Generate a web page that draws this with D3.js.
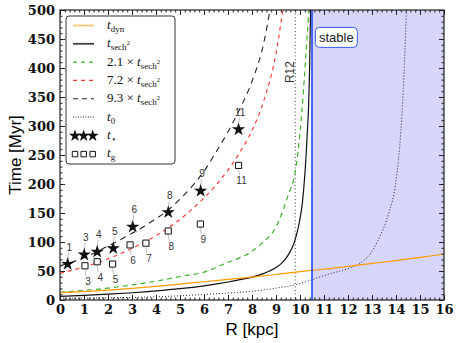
<!DOCTYPE html>
<html>
<head>
<meta charset="utf-8">
<script src="https://cdn.jsdelivr.net/npm/d3@7"></script>
<style>
  body { margin: 0; background: #fff; }
  .tick text { font-family: "DejaVu Serif", serif; font-weight: bold; font-size: 13px; fill: #111; }
</style>
</head>
<body>
<svg width="458" height="343"></svg>
<script>
// ---- data ----
const xTickValues = d3.range(0, 17);
const yTickValues = [0, 50, 100, 150, 200, 250, 300, 350, 400, 450, 500];

const rDyn = [0, 1, 2, 3, 4, 5, 6, 7, 8, 9, 10, 11, 12, 13, 14, 15, 16];
const tDyn = [12.6, 14.5, 17, 20, 23.5, 27.5, 31.5, 35.5, 39.5, 44, 49, 53, 58, 63, 68, 73.5, 79];

const rSech = [0, 1, 2, 3, 4, 5, 6, 7, 7.5, 8, 8.5, 9, 9.25, 9.5, 9.75, 9.9, 10, 10.1, 10.2, 10.3, 10.36, 10.4, 10.44, 10.47];
const tSech = [6.4, 8, 10, 12.5, 15.6, 19.5, 24.5, 31, 35, 39.5, 46, 56, 64, 77, 98, 120, 140, 168, 215, 285, 336, 400, 497, 600];

const rGreen = [0, 1, 2, 3, 4, 5, 6, 7, 7.5, 8, 8.42, 9, 9.25, 9.5, 9.8, 10, 10.15, 10.29, 10.36, 10.4];
const tGreen = [13.3, 16.5, 20.5, 26, 32.5, 40.5, 48, 65, 73, 84, 98, 126, 150, 180, 221, 288, 365, 451, 500, 560];

const rRed = [0, 1, 2, 3, 4, 5, 6, 6.5, 7, 7.5, 8, 8.5, 9, 9.25, 9.5];
const tRed = [46, 57, 71, 89, 111, 139, 176, 198, 224, 255, 292, 345, 425, 490, 560];

const rBlack = [0, 1, 2, 3, 4, 4.5, 5, 5.5, 6, 6.5, 7, 7.5, 8, 8.5, 8.75, 9];
const tBlack = [59, 73, 93, 115, 140, 155, 174, 196, 222, 255, 290, 330, 377, 445, 500, 560];

const rT0 = [0, 2, 4, 5.6, 7, 8, 9, 9.8, 10.5, 11, 11.5, 12, 12.3, 12.6, 13, 13.33, 13.7, 14, 14.2, 14.3, 14.4, 14.45];
const tT0 = [3, 3.8, 5.5, 8.5, 12, 15, 20.5, 26, 35, 42, 48, 54, 59, 66, 84, 110, 150, 205, 290, 360, 460, 520];

const starR = [0.32, 1.01, 1.55, 2.22, 3.03, 4.51, 5.86, 7.44];
const starT = [62, 78, 83, 89, 126, 151, 188, 294];
const starId = ["1", "3", "4", "5", "6", "8", "9", "11"];

const gR = [1.04, 1.55, 2.19, 2.92, 3.58, 4.51, 5.85, 7.44];
const gT = [59, 66, 62, 95, 98, 119, 131, 232];
const gId = ["3", "4", "5", "6", "7", "8", "9", "11"];

const rStable = 10.5;
const rR12 = 9.8;

// ---- layout ----
const margin = { left: 60, top: 10, right: 14, bottom: 43 };
const W = 458, H = 343;
const w = W - margin.left - margin.right;
const h = H - margin.top - margin.bottom;

const svg = d3.select("svg");
const g = svg.append("g").attr("transform", "translate(" + margin.left + "," + margin.top + ")");

const xs = d3.scaleLinear().domain([0, 16]).range([0, w]);
const ys = d3.scaleLinear().domain([0, 500]).range([h, 0]);

svg.append("defs").append("clipPath").attr("id", "clip")
  .append("rect").attr("width", w).attr("height", h);

// stable region
g.append("rect")
  .attr("x", xs(rStable)).attr("y", 0)
  .attr("width", xs(16) - xs(rStable)).attr("height", h)
  .attr("fill", "#d6d6fa");

const line = d3.line().curve(d3.curveMonotoneX)
  .x(d => xs(d[0])).y(d => ys(d[1]));

const curves = g.append("g").attr("clip-path", "url(#clip)");

function addCurve(rs, ts, color, dash, width) {
  curves.append("path")
    .datum(d3.zip(rs, ts))
    .attr("d", line)
    .attr("fill", "none")
    .attr("stroke", color)
    .attr("stroke-width", width)
    .attr("stroke-dasharray", dash);
}

// R12 marker
curves.append("line")
  .attr("x1", xs(rR12)).attr("x2", xs(rR12))
  .attr("y1", 0).attr("y2", h)
  .attr("stroke", "#444").attr("stroke-width", 1).attr("stroke-dasharray", "1,2.5");

addCurve(rT0, tT0, "#222", "1,2", 1);
addCurve(rGreen, tGreen, "#3db12a", "5,4", 1.2);
addCurve(rRed, tRed, "#ff3030", "4,4", 1.1);
addCurve(rBlack, tBlack, "#222", "6,5", 1.1);
addCurve(rSech, tSech, "#111", null, 1.2);
addCurve(rDyn, tDyn, "#ff9900", null, 1.2);

// stability boundary
g.append("line")
  .attr("x1", xs(rStable)).attr("x2", xs(rStable))
  .attr("y1", 0).attr("y2", h)
  .attr("stroke", "#2246ff").attr("stroke-width", 1.6);

// labels on the plot
g.append("text")
  .attr("transform", "translate(" + (xs(rR12) - 1.5) + "," + ys(393) + ") rotate(-90)")
  .attr("text-anchor", "middle")
  .attr("font-family", "Liberation Sans, Arial, sans-serif")
  .attr("font-size", 12).attr("fill", "#333")
  .text("R12");

const sx = xs(10.64), sy = ys(470);
g.append("rect")
  .attr("x", sx).attr("y", sy)
  .attr("width", 42).attr("height", 20).attr("rx", 4)
  .attr("fill", "#fff").attr("stroke", "#3a5cf0").attr("stroke-width", 1);
g.append("text")
  .attr("x", sx + 21).attr("y", sy + 14.5)
  .attr("text-anchor", "middle")
  .attr("font-family", "Liberation Sans, Arial, sans-serif")
  .attr("font-size", 13).attr("fill", "#222")
  .text("stable");

// axes, ticks inward on all four sides
const minorX = d3.range(0, 16.01, 0.2).filter(v => Math.abs(v - Math.round(v)) > 1e-6);
const minorY = d3.range(0, 501, 10).filter(v => v % 50 !== 0);

function axes(axisFn, scale, major, minor, transform, labels) {
  const a = g.append("g").attr("transform", transform)
    .call(axisFn(scale).tickValues(major).tickSize(-5).tickPadding(5)
      .tickFormat(labels ? d3.format("d") : ""));
  a.select(".domain").remove();
  a.selectAll("line").attr("stroke", "#222");
  const b = g.append("g").attr("transform", transform)
    .call(axisFn(scale).tickValues(minor).tickSize(-2.5).tickFormat(""));
  b.select(".domain").remove();
  b.selectAll("line").attr("stroke", "#222");
}
axes(d3.axisBottom, xs, xTickValues, minorX, "translate(0," + h + ")", true);
axes(d3.axisTop, xs, xTickValues, minorX, "translate(0,0)", false);
axes(d3.axisLeft, ys, yTickValues, minorY, "translate(0,0)", true);
axes(d3.axisRight, ys, yTickValues, minorY, "translate(" + w + ",0)", false);

g.append("rect").attr("width", w).attr("height", h)
  .attr("fill", "none").attr("stroke", "#222").attr("stroke-width", 1.2);

// axis titles
svg.append("text")
  .attr("x", margin.left + w / 2).attr("y", 335)
  .attr("text-anchor", "middle")
  .attr("font-family", "Liberation Sans, Arial, sans-serif").attr("font-size", 17)
  .text("R [kpc]");
svg.append("text")
  .attr("transform", "translate(21," + (margin.top + h / 2) + ") rotate(-90)")
  .attr("text-anchor", "middle")
  .attr("font-family", "Liberation Sans, Arial, sans-serif").attr("font-size", 17)
  .text("Time [Myr]");

// t_star and t_g points with leader lines and ids
const star = d3.symbol().type(d3.symbolStar).size(55);
const square = d3.symbol().type(d3.symbolSquare).size(38);
const pts = g.append("g");
const labelFont = "Liberation Sans, Arial, sans-serif";

starR.forEach((r, i) => {
  const x = xs(r), y = ys(starT[i]);
  pts.append("line").attr("x1", x).attr("y1", y - 5).attr("x2", x + 1).attr("y2", y - 12)
    .attr("stroke", "#bbb").attr("stroke-width", 1);
  pts.append("path").attr("d", star).attr("transform", "translate(" + x + "," + y + ")").attr("fill", "#111");
  pts.append("text").attr("x", x + 1.5).attr("y", y - 13.5).attr("text-anchor", "middle")
    .attr("font-family", labelFont).attr("font-size", 10).attr("fill", "#333").text(starId[i]);
});
gR.forEach((r, i) => {
  const x = xs(r), y = ys(gT[i]);
  pts.append("line").attr("x1", x).attr("y1", y + 4).attr("x2", x + 1).attr("y2", y + 10)
    .attr("stroke", "#bbb").attr("stroke-width", 1);
  pts.append("path").attr("d", square).attr("transform", "translate(" + x + "," + y + ")")
    .attr("fill", "#fff").attr("stroke", "#111").attr("stroke-width", 1);
  pts.append("text").attr("x", x + 3).attr("y", y + 19).attr("text-anchor", "middle")
    .attr("font-family", labelFont).attr("font-size", 10).attr("fill", "#333").text(gId[i]);
});

// legend
const leg = svg.append("g");
leg.append("rect").attr("x", 66).attr("y", 16).attr("width", 109).attr("height", 148).attr("rx", 3)
  .attr("fill", "#fff").attr("stroke", "#333").attr("stroke-width", 1);

const legendItems = [
  { kind: "line", color: "#ff9900", dash: null, op: 0.55, pre: "", sub: "dyn", sup: "" },
  { kind: "line", color: "#111", dash: null, op: 0.8, pre: "", sub: "sech", sup: "2" },
  { kind: "line", color: "#3db12a", dash: "4,4", op: 1, pre: "2.1 × ", sub: "sech", sup: "2" },
  { kind: "line", color: "#ff3030", dash: "4,4", op: 1, pre: "7.2 × ", sub: "sech", sup: "2" },
  { kind: "line", color: "#222", dash: "5,4", op: 1, pre: "9.3 × ", sub: "sech", sup: "2" },
  { kind: "line", color: "#222", dash: "1,1.5", op: 1, pre: "", sub: "0", sup: "" },
  { kind: "star", pre: "", sub: "⋆", sup: "" },
  { kind: "square", pre: "", sub: "g", sup: "" }
];
const legStar = d3.symbol().type(d3.symbolStar).size(46);
const legSquare = d3.symbol().type(d3.symbolSquare).size(30);
legendItems.forEach((d, i) => {
  const y = 25.5 + i * 18.3;
  if (d.kind === "line") {
    leg.append("line").attr("x1", 73).attr("x2", 94).attr("y1", y).attr("y2", y)
      .attr("stroke", d.color).attr("stroke-width", d.op < 1 ? 1.8 : 1.1)
      .attr("stroke-opacity", d.op).attr("stroke-dasharray", d.dash);
  } else {
    [75, 83.7, 92.7].forEach(cx => {
      leg.append("path").attr("d", d.kind === "star" ? legStar : legSquare)
        .attr("transform", "translate(" + cx + "," + (y + 0.5) + ")")
        .attr("fill", d.kind === "star" ? "#111" : "#fff")
        .attr("stroke", "#111").attr("stroke-width", d.kind === "star" ? 0 : 1);
    });
  }
  const t = leg.append("text").attr("x", 107).attr("y", y + 3.5)
    .attr("font-family", "Liberation Serif, Times New Roman, serif").attr("font-size", 13).attr("fill", "#111");
  if (d.pre) t.append("tspan").text(d.pre);
  t.append("tspan").attr("font-style", "italic").text("t");
  t.append("tspan").attr("font-size", 9).attr("dy", 3).text(d.sub);
  if (d.sup) t.append("tspan").attr("font-size", 6.5).attr("dy", -5).text(d.sup);
});
</script>
</body>
</html>
